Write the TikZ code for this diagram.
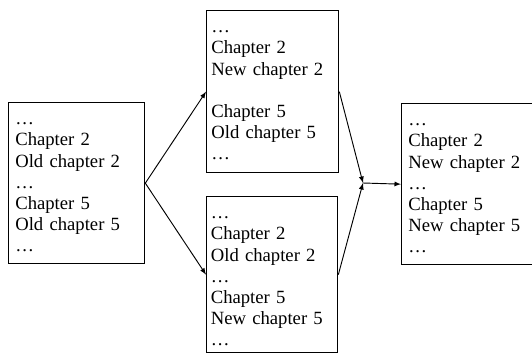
\documentclass[tikz,border=0pt]{standalone}
\usepackage{fontspec}
\setmainfont{Liberation Serif}
\usetikzlibrary{arrows, positioning}

\tikzset{
    version/.style={draw, line width=1pt, rectangle, anchor=north west, align=left,
        text width=92pt, inner xsep=3pt, inner ysep=0pt, text height=16.5pt,
        font=\fontsize{14}{15.9}\selectfont},
    flow/.style={->, line width=0.7pt}
}

\begin{document}
\begin{tikzpicture}[x=0.75pt, y=-0.75pt, >=latex]
    \useasboundingbox (0, 0) rectangle (532, 356);

    \node[version, minimum width=102pt, text depth=104.25pt] (orig) at (8, 102)
        {\dots\\Chapter 2\\Old chapter 2\\\dots\\Chapter 5\\Old chapter 5\\\dots};
    \node[version, minimum width=99pt, text depth=105pt] (ed1) at (206, 10)
        {\dots\\Chapter 2\\New chapter 2\\\mbox{}\\Chapter 5\\Old chapter 5\\\dots};
    \node[version, minimum width=98.25pt, text depth=100.5pt] (ed2) at (206, 196)
        {\dots\\Chapter 2\\Old chapter 2\\\dots\\Chapter 5\\New chapter 5\\\dots};
    \node[version, minimum width=102pt, text depth=104.25pt] (merged) at (401, 103)
        {\dots\\Chapter 2\\New chapter 2\\\dots\\Chapter 5\\New chapter 5\\\dots};
    \coordinate (join) at (363, 183);

    \draw
    (orig.east) edge[flow] (ed1.west)
    (orig.east) edge[flow] (ed2.west)
    (ed1.east) edge[flow] (join)
    (ed2.east) edge[flow] (join)
    (join) edge[flow] (merged.west);
\end{tikzpicture}
\end{document}
